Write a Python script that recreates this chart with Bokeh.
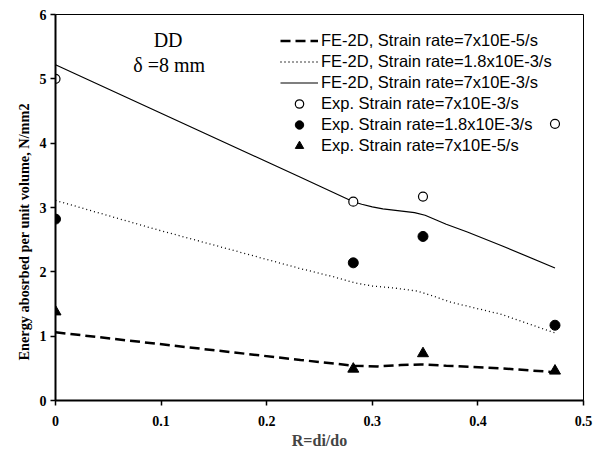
from bokeh.plotting import figure
from bokeh.models import Legend, LegendItem, Label, Range1d, FixedTicker, Title
from bokeh.embed import file_html
from bokeh.resources import INLINE

# Experimental data
r_exp = [0.0, 0.282, 0.348, 0.473]
exp_7e3 = [5.00, 3.09, 3.17, 4.30]
exp_18e3 = [2.82, 2.14, 2.55, 1.17]
exp_7e5 = [1.38, 0.49, 0.73, 0.46]

# FE-2D curves
r_fe_7e3 = [0.0, 0.232, 0.282, 0.290, 0.300, 0.310, 0.320, 0.330, 0.340, 0.350, 0.360, 0.370, 0.390, 0.422, 0.473]
fe_7e3 = [5.22, 3.47, 3.09, 3.05, 3.01, 2.98, 2.96, 2.94, 2.92, 2.88, 2.81, 2.74, 2.62, 2.41, 2.06]

r_fe_18e3 = [0.0, 0.093, 0.232, 0.264, 0.283, 0.300, 0.320, 0.343, 0.360, 0.374, 0.422, 0.473]
fe_18e3 = [3.11, 2.67, 2.05, 1.92, 1.83, 1.78, 1.75, 1.70, 1.61, 1.53, 1.34, 1.05]

r_fe_7e5 = [0.0, 0.232, 0.283, 0.305, 0.327, 0.346, 0.370, 0.422, 0.473]
fe_7e5 = [1.06, 0.63, 0.54, 0.53, 0.55, 0.56, 0.54, 0.50, 0.44]

x_ticks = [0, 0.1, 0.2, 0.3, 0.4, 0.5]
y_ticks = [0, 1, 2, 3, 4, 5, 6]

p = figure(width=593, height=451, output_backend="svg", toolbar_location=None,
           x_range=Range1d(0, 0.5), y_range=Range1d(0, 6),
           min_border_left=55, min_border_right=10, min_border_top=14, min_border_bottom=48)
p.grid.visible = False
p.background_fill_color = "white"
p.border_fill_color = "white"
p.outline_line_color = "black"
p.outline_line_width = 1

for ax in (p.xaxis[0], p.yaxis[0]):
    ax.axis_line_width = 2
    ax.axis_line_color = "black"
    ax.major_tick_line_color = "black"
    ax.major_tick_line_width = 1.5
    ax.major_tick_out = 5
    ax.major_tick_in = 0
    ax.minor_tick_line_color = None
    ax.major_label_text_font = "Liberation Serif"
    ax.major_label_text_font_style = "bold"
    ax.major_label_text_font_size = "14px"
    ax.major_label_text_color = "black"

p.xaxis.ticker = FixedTicker(ticks=x_ticks)
p.yaxis.ticker = FixedTicker(ticks=y_ticks)
p.xaxis.major_label_overrides = {0: "0", 0.1: "0.1", 0.2: "0.2", 0.3: "0.3", 0.4: "0.4", 0.5: "0.5"}
p.xaxis.major_label_standoff = 10
p.yaxis.major_label_standoff = 4
p.xaxis.axis_label = "R=di/do"
p.xaxis.axis_label_text_font = "Liberation Serif"
p.xaxis.axis_label_text_font_style = "bold"
p.xaxis.axis_label_text_font_size = "16px"
p.xaxis.axis_label_standoff = 3

ytitle = Title(text="Energy abosrbed per unit volume, N/mm2", align="left", offset=40,
               text_font="Liberation Serif", text_font_style="bold", text_font_size="14.3px",
               text_color="black", standoff=9)
p.add_layout(ytitle, "left")

l1 = p.line(r_fe_7e5, fe_7e5, line_color="black", line_width=2.5, line_dash="10 5")
l2 = p.line(r_fe_18e3, fe_18e3, line_color="black", line_width=1.3, line_dash="1 3")
l3 = p.line(r_fe_7e3, fe_7e3, line_color="black", line_width=1.2)
s1 = p.scatter(r_exp, exp_7e3, marker="circle", size=9, fill_color="white", line_color="black", line_width=1.2)
s2 = p.scatter(r_exp, exp_18e3, marker="circle", size=10, fill_color="black", line_color="black")
s3 = p.scatter(r_exp, exp_7e5, marker="triangle", size=11, fill_color="black", line_color="black")

legend = Legend(items=[
    LegendItem(label="FE-2D, Strain rate=7x10E-5/s", renderers=[l1]),
    LegendItem(label="FE-2D, Strain rate=1.8x10E-3/s", renderers=[l2]),
    LegendItem(label="FE-2D, Strain rate=7x10E-3/s", renderers=[l3]),
    LegendItem(label="Exp. Strain rate=7x10E-3/s", renderers=[s1]),
    LegendItem(label="Exp. Strain rate=1.8x10E-3/s", renderers=[s2]),
    LegendItem(label="Exp. Strain rate=7x10E-5/s", renderers=[s3]),
], location=(225, 244))
legend.border_line_color = None
legend.background_fill_alpha = 0
legend.padding = 0
legend.margin = 0
legend.spacing = 0
legend.glyph_width = 38
legend.glyph_height = 21
legend.label_height = 21
legend.label_standoff = 3
legend.label_text_font = "Liberation Sans"
legend.label_text_font_size = "16.5px"
legend.label_text_color = "black"
p.add_layout(legend)

p.add_layout(Label(x=0.1066, y=5.60, text="DD", text_align="center", text_baseline="middle",
                   text_font="Liberation Serif", text_font_size="20px", text_color="black"))
p.add_layout(Label(x=0.1076, y=5.22, text="\u03b4 =8 mm", text_align="center", text_baseline="middle",
                   text_font="Liberation Serif", text_font_size="20px", text_color="black"))

open("out.html", "w").write(file_html(p, INLINE))
